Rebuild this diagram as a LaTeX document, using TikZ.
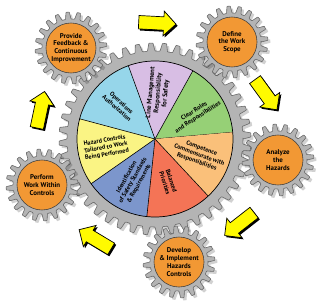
\documentclass[tikz,border=0pt]{standalone}
\usepackage{fontspec}
\setmainfont{PT Sans}
\usepackage{tikz}
\usepackage{xcolor}
\usetikzlibrary{shapes.arrows, shadows}
\definecolor{cogGrey}{RGB}{180,180,180}
\definecolor{cogEdge}{RGB}{105,105,105}
\definecolor{cogOrange}{RGB}{242,152,52}
\definecolor{arrowYellow}{RGB}{255,250,0}
\definecolor{sliceBlue}{RGB}{150,214,234}
\definecolor{sliceLilac}{RGB}{216,190,228}
\definecolor{sliceGreen}{RGB}{150,208,118}
\definecolor{slicePeach}{RGB}{250,192,122}
\definecolor{sliceSalmon}{RGB}{244,116,86}
\definecolor{sliceSteel}{RGB}{124,150,204}
\definecolor{sliceYellow}{RGB}{250,244,132}
% one cog: centre, teeth, root radius, tip radius
\newcommand{\cogwheel}[4]{%
  \foreach \cogsty/\cogdx in {cogshadow/2.5, cogbody/0}{
    \filldraw[\cogsty, shift={(#1)}, xshift=\cogdx*0.03cm, yshift=-\cogdx*0.03cm] (0:#3)
      \foreach \k in {1,...,#2}{
        -- ({(\k-0.85)*360/#2}:#4) -- ({(\k-0.55)*360/#2}:#4)
        -- ({(\k-0.4)*360/#2}:#3) -- ({\k*360/#2}:#3)
      } -- cycle;
  }
}
\tikzset{
    cogbody/.style={
        fill=cogGrey,
        draw=cogEdge,
        line width=0.5pt,
        rounded corners=0.5pt
    },
    cogshadow/.style={
        fill=black,
        draw=none,
        opacity=0.18
    },
    cogcore/.style={
        circle,
        fill=cogOrange,
        draw=black!75,
        line width=0.5pt,
        minimum size=1.5cm,
        inner sep=0pt,
        align=center,
        font=\bfseries\fontsize{5.9}{6.6}\selectfont
    },
    slicetext/.style={
        align=center,
        inner sep=0pt,
        font=\bfseries\fontsize{5.3}{6}\selectfont
    },
    cyclearrow/.style={
        single arrow,
        fill=arrowYellow,
        draw=black,
        line width=0.6pt,
        minimum height=1.12cm,
        inner xsep=0pt,
        inner ysep=0.19cm,
        single arrow head extend=0.17cm,
        single arrow head indent=0pt,
        drop shadow={shadow xshift=1.4pt, shadow yshift=-1.4pt, fill=black, opacity=1}
    }
}
\begin{document}
\begin{tikzpicture}[x=0.03cm, y=0.03cm]
    \fill[white] (0,0) rectangle (320,303);
    \useasboundingbox (0,0) rectangle (320,303);

    % centres
    \coordinate (hub) at (155,164);
    \coordinate (feedbackc) at (71,255);
    \coordinate (scopec) at (232,261);
    \coordinate (analyzec) at (278,143);
    \coordinate (developc) at (179,41);
    \coordinate (performc) at (42,118);

    % big wheel
    \cogwheel{hub}{44}{88}{96}
    \foreach \a/\b/\col in {5/61/sliceGreen, 61/110/sliceLilac, 110/165/sliceBlue,
        165/215/sliceYellow, 215/264/sliceSteel, 264/313/sliceSalmon, 313/365/slicePeach}{
        \fill[\col] (hub) -- ([shift={(\a:78)}]hub) arc[start angle=\a, end angle=\b, radius=78] -- cycle;
        \draw[black, line width=0.5pt] (hub) -- ([shift={(\a:78)}]hub);
    }
    \draw[black, line width=0.6pt] (hub) circle[radius=78];

    \node[slicetext, rotate=-42] (opsauth) at ([shift={(137:49)}]hub) {Operations\\Authorization};
    \node[slicetext, rotate=85, font=\bfseries\fontsize{5.7}{6.4}\selectfont] (linemgmt) at ([shift={(86:46)}]hub) {Line Management\\Responsibility\\for Safety};
    \node[slicetext, rotate=33] (roles) at ([shift={(31:48)}]hub) {Clear Roles\\and Responsibilities};
    \node[slicetext, rotate=-20] (competence) at ([shift={(-20:47)}]hub) {Competence\\Commensurate with\\Responsibilities};
    \node[slicetext, rotate=-72] (priorities) at ([shift={(-73:45)}]hub) {Balanced\\Priorities};
    \node[slicetext, rotate=61] (standards) at ([shift={(-118:47)}]hub) {Identification\\of Safety Standards\\\& Requirements};
    \node[slicetext, rotate=10] (tailored) at ([shift={(190:50)}]hub) {Hazard Controls\\Tailored to Work\\Being Performed};

    % small wheels
    \foreach \c in {feedbackc, scopec, analyzec, developc, performc}{
        \cogwheel{\c}{20}{29}{36}
    }
    \node[cogcore] (feedback) at (feedbackc) {Provide\\Feedback \&\\Continuous\\Improvement};
    \node[cogcore] (scope) at (scopec) {Define\\the Work\\Scope};
    \node[cogcore] (analyze) at (analyzec) {Analyze\\the\\Hazards};
    \node[cogcore] (develop) at (developc) {Develop\\\& Implement\\Hazards\\Controls};
    \node[cogcore] (perform) at (performc) {Perform\\Work Within\\Controls};

    % cycle arrows
    \node[cyclearrow, rotate=-3] (toscope) at (154,280) {};
    \node[cyclearrow, rotate=-54] (toanalyze) at (264,211) {};
    \node[cyclearrow, rotate=-142] (todevelop) at (242,81) {};
    \node[cyclearrow, rotate=149] (toperform) at (98,62) {};
    \node[cyclearrow, rotate=78] (tofeedback) at (40,190) {};
\end{tikzpicture}
\end{document}
